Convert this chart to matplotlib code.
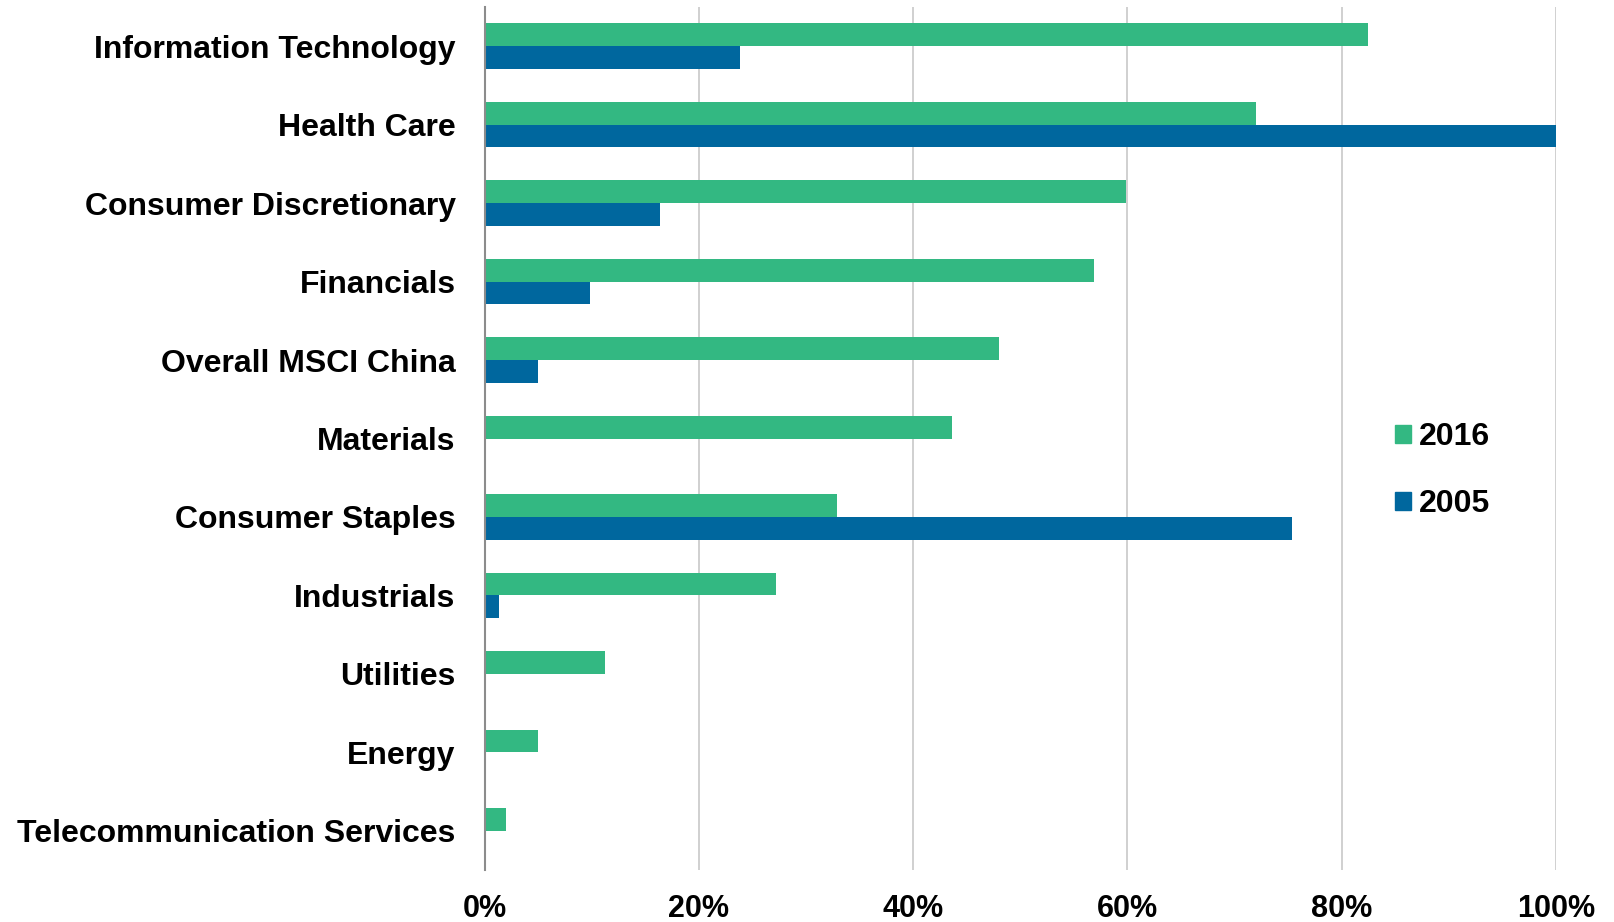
import matplotlib
matplotlib.use("Agg")
import matplotlib.pyplot as plt
import numpy as np
from matplotlib.patches import Patch
from matplotlib.ticker import FuncFormatter

categories = [
    "Information Technology",
    "Health Care",
    "Consumer Discretionary",
    "Financials",
    "Overall MSCI China",
    "Materials",
    "Consumer Staples",
    "Industrials",
    "Utilities",
    "Energy",
    "Telecommunication Services",
]
values_2016 = [82.5, 72.0, 59.9, 56.9, 48.0, 43.6, 32.9, 27.2, 11.2, 5.0, 2.0]
values_2005 = [23.8, 100.0, 16.4, 9.8, 5.0, 0.0, 75.4, 1.3, 0.0, 0.0, 0.0]
x_ticks = [0, 20, 40, 60, 80, 100]

GREEN = "#33B882"
BLUE = "#00679E"

plt.rcParams["font.family"] = ["Liberation Sans", "DejaVu Sans"]

fig = plt.figure(figsize=(16.14, 9.22), dpi=100)
ax = fig.add_axes([0.3003, 0.0564, 0.6636, 0.9360])

y = np.arange(len(categories))
h = 0.29
ax.barh(y - h / 2, values_2016, height=h, color=GREEN, zorder=3)
ax.barh(y + h / 2, values_2005, height=h, color=BLUE, zorder=3)

ax.set_ylim(len(categories) - 0.5, -0.5)
ax.set_xlim(0, 100)
ax.set_yticks(y)
ax.set_yticklabels(categories, fontsize=23, fontweight="bold")
ax.set_xticks(x_ticks)
ax.xaxis.set_major_formatter(FuncFormatter(lambda v, _: f"{v:.0f}%"))
for lab in ax.get_xticklabels():
    lab.set_fontsize(22)
    lab.set_fontweight("bold")
ax.tick_params(axis="both", length=0)
ax.tick_params(axis="y", pad=21)
ax.tick_params(axis="x", pad=17)

ax.grid(axis="x", color="#C8C8C8", linewidth=1.2, zorder=0)
for side in ["top", "right", "bottom"]:
    ax.spines[side].set_visible(False)
ax.spines["left"].set_color("#8C8C8C")
ax.spines["left"].set_linewidth(1.5)
ax.spines["left"].set_zorder(4)

handles = [Patch(color=GREEN, label="2016"), Patch(color=BLUE, label="2005")]
leg = fig.legend(
    handles=handles,
    loc="center left",
    bbox_to_anchor=(0.8465, 0.4895),
    frameon=False,
    prop={"size": 23, "weight": "bold"},
    handlelength=0.5,
    handleheight=0.5,
    handletextpad=0.25,
    labelspacing=1.15,
)

fig.savefig("out.png", dpi=100)
